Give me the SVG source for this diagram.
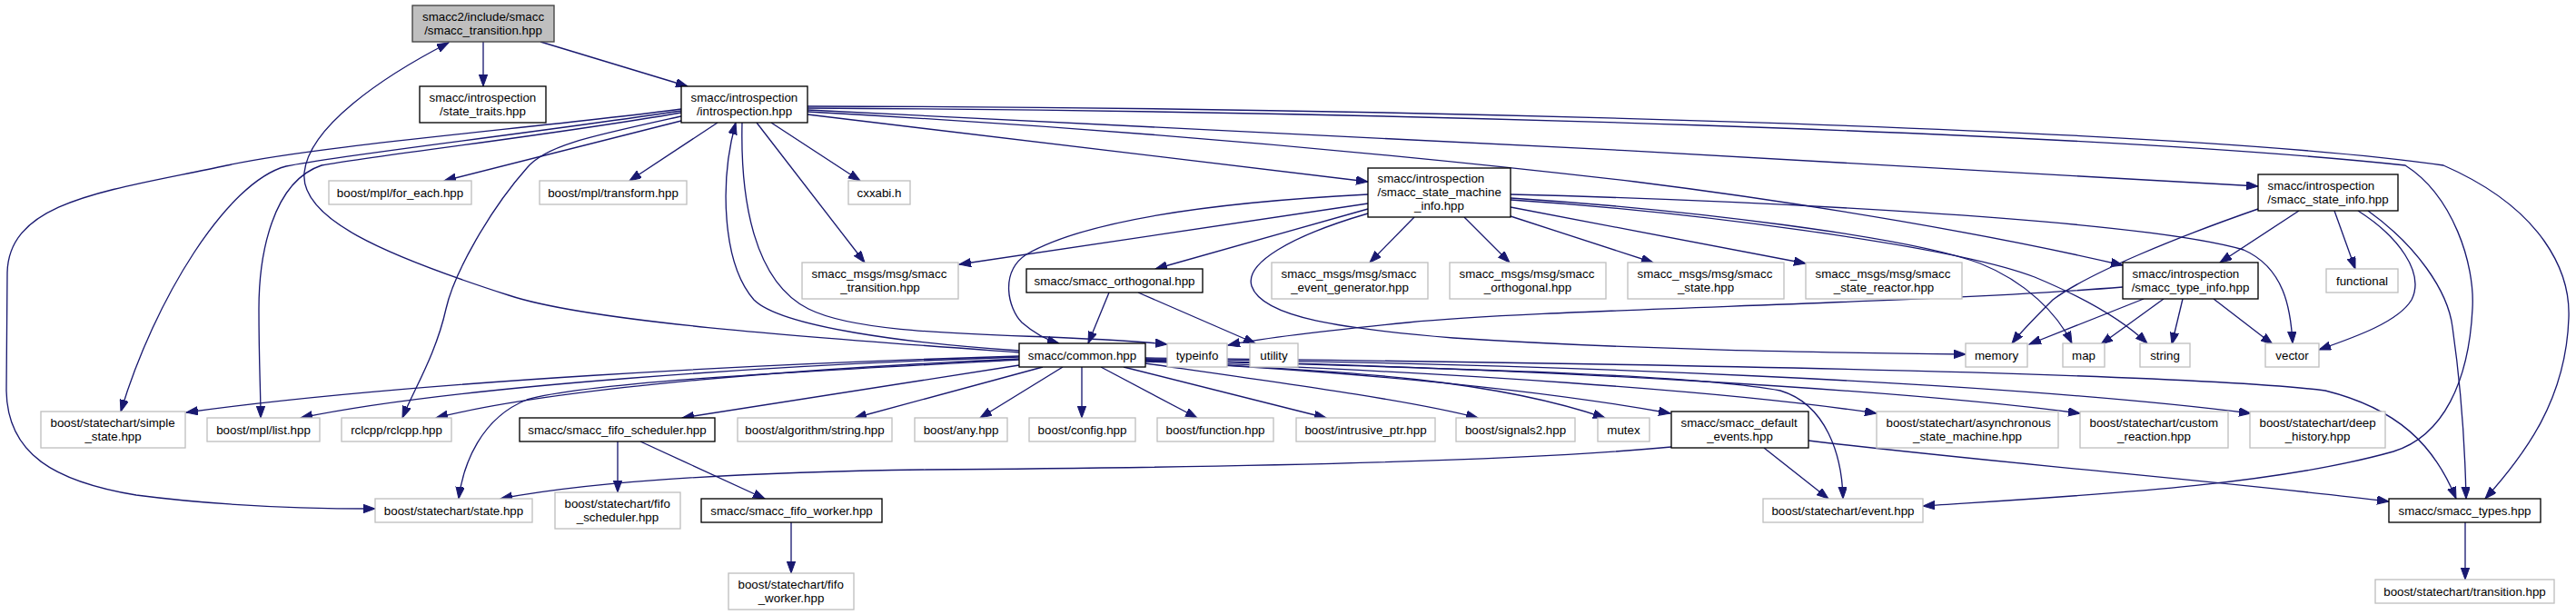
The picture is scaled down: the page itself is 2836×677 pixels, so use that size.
<svg xmlns="http://www.w3.org/2000/svg" width="2836" height="677" viewBox="0 0 2836 677">
<style>
.bg{fill:#ffffff}
.n rect{fill:#ffffff;stroke-width:1.33}
.d rect{stroke:#000000}
.u rect{stroke:#bfbfbf}
.r rect{fill:#bfbfbf;stroke:#404040}
text{font-family:"Liberation Sans",Arial,Helvetica,sans-serif;font-size:13.33px;fill:#000000}
.m{text-anchor:middle}
.s{text-anchor:start}
#edges path{fill:none;stroke:#191970;stroke-width:1.33;marker-end:url(#ah)}
</style>
<defs>
<marker id="ah" markerUnits="userSpaceOnUse" markerWidth="14" markerHeight="10" refX="13" refY="4.7" orient="auto">
<path d="M0,0 L13,4.7 L0,9.4 z" fill="#191970" stroke="#191970" stroke-width="1"/>
</marker>
</defs>
<rect class="bg" x="0" y="0" width="2836" height="677"/>
<g id="edges">
<path d="M532,46 L532,95"/>
<path d="M595,46 L757,95"/>
<path d="M1122,388 C900,372 650,355 560,325 C420,280 330,240 335,190 C340,140 420,85 494,47"/>
<path d="M1122,386 C1000,378 860,360 830,330 C795,290 792,200 810,135"/>
<path d="M817,135 C815,220 830,310 890,340 C960,375 1150,365 1285,379"/>
<path d="M750,133 L489,199"/>
<path d="M790,135 L693,199"/>
<path d="M849,135 L947,199"/>
<path d="M833,135 L952,289"/>
<path d="M889,126 L1506,200"/>
<path d="M889,121 C1300,140 2000,175 2486,205"/>
<path d="M889,123 C1200,140 1500,165 1800,200 C2000,225 2200,260 2337,292"/>
<path d="M889,117 C1500,118 2400,140 2690,182 C2800,230 2830,300 2828,350 C2825,440 2780,500 2736,549"/>
<path d="M889,119 C1500,122 2300,145 2648,182 C2700,215 2725,290 2722,340 C2718,420 2690,480 2635,497 C2500,535 2300,545 2117,557"/>
<path d="M750,122 C560,150 380,170 315,183 C250,200 170,330 133,453"/>
<path d="M750,124 C600,150 420,170 354,182 C300,200 285,280 285,340 C285,400 287,430 287,460"/>
<path d="M750,128 C650,150 600,160 580,185 C540,230 500,300 491,340 C480,390 455,430 443,460"/>
<path d="M750,120 C600,140 350,160 250,182 C120,210 10,220 8,300 L7,430 C8,500 60,530 150,545 C250,558 350,560 413,560"/>
<path d="M1506,214 C1350,222 1200,240 1130,280 C1100,300 1110,340 1125,355 C1140,368 1155,375 1166,378"/>
<path d="M1506,224 L1056,291"/>
<path d="M1506,230 L1272,296"/>
<path d="M1506,235 C1420,260 1370,290 1378,315 C1390,350 1480,362 1600,372 C1800,385 2000,388 2164,390"/>
<path d="M1557,239 L1508,289"/>
<path d="M1612,239 L1662,289"/>
<path d="M1663,238 L1820,289"/>
<path d="M1663,228 L1988,290"/>
<path d="M1663,214 C1900,220 2350,240 2470,275 C2515,295 2522,340 2524,378"/>
<path d="M1663,218 C1850,230 2100,260 2180,290 C2230,310 2265,345 2281,378"/>
<path d="M1663,220 C1850,232 2150,270 2240,305 C2300,330 2340,355 2364,378"/>
<path d="M2531,232 L2444,289"/>
<path d="M2486,230 C2400,260 2300,300 2260,330 C2240,350 2225,365 2215,378"/>
<path d="M2570,232 L2593,296"/>
<path d="M2596,232 C2640,260 2670,300 2655,330 C2640,355 2590,372 2553,385"/>
<path d="M2607,232 C2660,270 2695,320 2700,360 C2710,430 2714,500 2715,549"/>
<path d="M2337,316 C2100,335 1700,340 1550,355 C1450,365 1390,372 1352,380"/>
<path d="M2360,329 L2234,379"/>
<path d="M2382,329 L2313,379"/>
<path d="M2403,329 L2391,379"/>
<path d="M2437,329 L2502,379"/>
<path d="M1221,322 L1198,378"/>
<path d="M1253,322 L1382,378"/>
<path d="M1122,392 C850,400 450,420 205,454"/>
<path d="M1122,393 C850,402 500,425 331,460"/>
<path d="M1122,395 C900,405 620,425 480,460"/>
<path d="M1122,396 C900,408 650,420 580,440 C530,460 510,510 505,549"/>
<path d="M1122,402 L751,460"/>
<path d="M1148,404 L941,460"/>
<path d="M1170,404 L1079,460"/>
<path d="M1191,404 L1191,460"/>
<path d="M1212,404 L1318,460"/>
<path d="M1237,404 L1460,460"/>
<path d="M1261,400 C1400,420 1550,440 1627,460"/>
<path d="M1261,398 C1500,408 1650,420 1767,460"/>
<path d="M1261,397 C1500,410 1700,430 1839,455"/>
<path d="M1261,397 C1600,410 1900,430 2066,455"/>
<path d="M1261,396 C1550,405 1850,410 1960,430 C2010,445 2028,500 2029,549"/>
<path d="M1261,396 C1700,405 2100,430 2290,455"/>
<path d="M1261,395 C1700,400 2200,420 2478,455"/>
<path d="M1261,394 C1800,400 2400,410 2560,430 C2640,450 2680,490 2704,549"/>
<path d="M1840,492 C1650,510 1300,515 1020,517 C800,520 650,530 551,549"/>
<path d="M1942,493 L2013,549"/>
<path d="M1991,485 C2200,510 2450,530 2630,552"/>
<path d="M680,486 L680,542"/>
<path d="M705,486 L842,549"/>
<path d="M871,575 L871,631"/>
<path d="M2714,575 L2714,638"/>
</g>
<g id="n_root" class="n r"><rect x="454" y="6" width="156" height="40"/><text class="s" x="465" y="22.7">smacc2/include/smacc</text><text class="m" x="532" y="37.7">/smacc_transition.hpp</text></g>
<g id="n_state_traits" class="n d"><rect x="462" y="95" width="139" height="40"/><text class="s" x="472.5" y="111.7">smacc/introspection</text><text class="m" x="531.5" y="126.7">/state_traits.hpp</text></g>
<g id="n_introspection" class="n d"><rect x="750" y="95" width="139" height="40"/><text class="s" x="760.5" y="111.7">smacc/introspection</text><text class="m" x="819.5" y="126.7">/introspection.hpp</text></g>
<g id="n_for_each" class="n u"><rect x="362" y="199" width="157" height="26"/><text class="m" x="440.5" y="216.5">boost/mpl/for_each.hpp</text></g>
<g id="n_transform" class="n u"><rect x="594" y="199" width="162" height="26"/><text class="m" x="675" y="216.5">boost/mpl/transform.hpp</text></g>
<g id="n_cxxabi" class="n u"><rect x="934" y="199" width="68" height="26"/><text class="m" x="968" y="216.5">cxxabi.h</text></g>
<g id="n_state_machine_info" class="n d"><rect x="1506" y="185" width="157" height="54"/><text class="s" x="1516.5" y="201.2">smacc/introspection</text><text class="s" x="1516.5" y="216.2">/smacc_state_machine</text><text class="m" x="1584.5" y="231.2">_info.hpp</text></g>
<g id="n_state_info" class="n d"><rect x="2486" y="192" width="154" height="40"/><text class="s" x="2496.5" y="208.7">smacc/introspection</text><text class="m" x="2563" y="223.7">/smacc_state_info.hpp</text></g>
<g id="n_msg_transition" class="n u"><rect x="883" y="289" width="172" height="40"/><text class="s" x="893.5" y="305.7">smacc_msgs/msg/smacc</text><text class="m" x="969" y="320.7">_transition.hpp</text></g>
<g id="n_orthogonal" class="n d"><rect x="1130" y="296" width="194" height="26"/><text class="m" x="1227" y="313.5">smacc/smacc_orthogonal.hpp</text></g>
<g id="n_msg_event_generator" class="n u"><rect x="1400" y="289" width="172" height="40"/><text class="s" x="1410.5" y="305.7">smacc_msgs/msg/smacc</text><text class="m" x="1486" y="320.7">_event_generator.hpp</text></g>
<g id="n_msg_orthogonal" class="n u"><rect x="1596" y="289" width="172" height="40"/><text class="s" x="1606.5" y="305.7">smacc_msgs/msg/smacc</text><text class="m" x="1682" y="320.7">_orthogonal.hpp</text></g>
<g id="n_msg_state" class="n u"><rect x="1792" y="289" width="172" height="40"/><text class="s" x="1802.5" y="305.7">smacc_msgs/msg/smacc</text><text class="m" x="1878" y="320.7">_state.hpp</text></g>
<g id="n_msg_state_reactor" class="n u"><rect x="1988" y="289" width="172" height="40"/><text class="s" x="1998.5" y="305.7">smacc_msgs/msg/smacc</text><text class="m" x="2074" y="320.7">_state_reactor.hpp</text></g>
<g id="n_type_info" class="n d"><rect x="2337" y="289" width="149" height="40"/><text class="s" x="2347.5" y="305.7">smacc/introspection</text><text class="m" x="2411.5" y="320.7">/smacc_type_info.hpp</text></g>
<g id="n_functional" class="n u"><rect x="2561" y="296" width="79" height="26"/><text class="m" x="2600.5" y="313.5">functional</text></g>
<g id="n_common" class="n d"><rect x="1122" y="378" width="139" height="26"/><text class="m" x="1191.5" y="395.5">smacc/common.hpp</text></g>
<g id="n_typeinfo" class="n u"><rect x="1285" y="378" width="66" height="26"/><text class="m" x="1318" y="395.5">typeinfo</text></g>
<g id="n_utility" class="n u"><rect x="1376" y="378" width="53" height="26"/><text class="m" x="1402.5" y="395.5">utility</text></g>
<g id="n_memory" class="n u"><rect x="2164" y="378" width="68" height="26"/><text class="m" x="2198" y="395.5">memory</text></g>
<g id="n_map" class="n u"><rect x="2271" y="378" width="46" height="26"/><text class="m" x="2294" y="395.5">map</text></g>
<g id="n_string" class="n u"><rect x="2356" y="378" width="55" height="26"/><text class="m" x="2383.5" y="395.5">string</text></g>
<g id="n_vector" class="n u"><rect x="2494" y="378" width="59" height="26"/><text class="m" x="2523.5" y="395.5">vector</text></g>
<g id="n_simple_state" class="n u"><rect x="45" y="453" width="159" height="40"/><text class="s" x="55.5" y="469.7">boost/statechart/simple</text><text class="m" x="124.5" y="484.7">_state.hpp</text></g>
<g id="n_mpl_list" class="n u"><rect x="228" y="460" width="124" height="26"/><text class="m" x="290" y="477.5">boost/mpl/list.hpp</text></g>
<g id="n_rclcpp" class="n u"><rect x="376" y="460" width="121" height="26"/><text class="m" x="436.5" y="477.5">rclcpp/rclcpp.hpp</text></g>
<g id="n_smacc_fifo_scheduler" class="n d"><rect x="572" y="460" width="215" height="26"/><text class="m" x="679.5" y="477.5">smacc/smacc_fifo_scheduler.hpp</text></g>
<g id="n_algorithm_string" class="n u"><rect x="812" y="460" width="170" height="26"/><text class="m" x="897" y="477.5">boost/algorithm/string.hpp</text></g>
<g id="n_any" class="n u"><rect x="1007" y="460" width="102" height="26"/><text class="m" x="1058" y="477.5">boost/any.hpp</text></g>
<g id="n_config" class="n u"><rect x="1133" y="460" width="117" height="26"/><text class="m" x="1191.5" y="477.5">boost/config.hpp</text></g>
<g id="n_function" class="n u"><rect x="1274" y="460" width="128" height="26"/><text class="m" x="1338" y="477.5">boost/function.hpp</text></g>
<g id="n_intrusive_ptr" class="n u"><rect x="1427" y="460" width="153" height="26"/><text class="m" x="1503.5" y="477.5">boost/intrusive_ptr.hpp</text></g>
<g id="n_signals2" class="n u"><rect x="1603" y="460" width="131" height="26"/><text class="m" x="1668.5" y="477.5">boost/signals2.hpp</text></g>
<g id="n_mutex" class="n u"><rect x="1759" y="460" width="57" height="26"/><text class="m" x="1787.5" y="477.5">mutex</text></g>
<g id="n_default_events" class="n d"><rect x="1840" y="453" width="151" height="40"/><text class="s" x="1850.5" y="469.7">smacc/smacc_default</text><text class="m" x="1915.5" y="484.7">_events.hpp</text></g>
<g id="n_async_state_machine" class="n u"><rect x="2066" y="453" width="200" height="40"/><text class="s" x="2076.5" y="469.7">boost/statechart/asynchronous</text><text class="m" x="2166" y="484.7">_state_machine.hpp</text></g>
<g id="n_custom_reaction" class="n u"><rect x="2290" y="453" width="163" height="40"/><text class="s" x="2300.5" y="469.7">boost/statechart/custom</text><text class="m" x="2371.5" y="484.7">_reaction.hpp</text></g>
<g id="n_deep_history" class="n u"><rect x="2477" y="453" width="149" height="40"/><text class="s" x="2487.5" y="469.7">boost/statechart/deep</text><text class="m" x="2551.5" y="484.7">_history.hpp</text></g>
<g id="n_state" class="n u"><rect x="413" y="549" width="173" height="26"/><text class="m" x="499.5" y="566.5">boost/statechart/state.hpp</text></g>
<g id="n_boost_fifo_scheduler" class="n u"><rect x="611" y="542" width="138" height="40"/><text class="s" x="621.5" y="558.7">boost/statechart/fifo</text><text class="m" x="680" y="573.7">_scheduler.hpp</text></g>
<g id="n_smacc_fifo_worker" class="n d"><rect x="772" y="549" width="199" height="26"/><text class="m" x="871.5" y="566.5">smacc/smacc_fifo_worker.hpp</text></g>
<g id="n_event" class="n u"><rect x="1941" y="549" width="176" height="26"/><text class="m" x="2029" y="566.5">boost/statechart/event.hpp</text></g>
<g id="n_smacc_types" class="n d"><rect x="2630" y="549" width="167" height="26"/><text class="m" x="2713.5" y="566.5">smacc/smacc_types.hpp</text></g>
<g id="n_boost_fifo_worker" class="n u"><rect x="802" y="631" width="138" height="40"/><text class="s" x="812.5" y="647.7">boost/statechart/fifo</text><text class="m" x="871" y="662.7">_worker.hpp</text></g>
<g id="n_transition" class="n u"><rect x="2615" y="638" width="197" height="26"/><text class="m" x="2713.5" y="655.5">boost/statechart/transition.hpp</text></g>
</svg>
